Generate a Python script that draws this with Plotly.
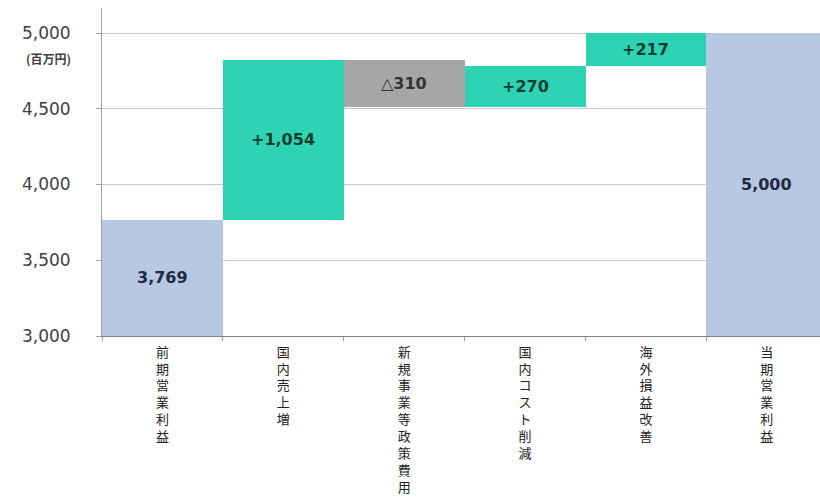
import plotly.graph_objects as go

categories = ["前期営業利益", "国内売上増", "新規事業等政策費用", "国内コスト削減", "海外損益改善", "当期営業利益"]
values = [3769, 1054, -310, 270, 217, 5000]
measures = ["absolute", "relative", "relative", "relative", "relative", "total"]
labels = ["3,769", "+1,054", "△310", "+270", "+217", "5,000"]
text_colors = ["#1f2a40", "#0f3f30", "#333333", "#0f3f30", "#0f3f30", "#1f2a40"]
y_ticks = [3000, 3500, 4000, 4500, 5000]
y_tick_text = ["3,000", "3,500", "4,000", "4,500", "5,000"]
unit_label = "(百万円)"

Y_MIN, Y_MAX = 3000, 5165

vert_labels = ["<br>".join(list(c)) for c in categories]

fig = go.Figure(go.Waterfall(
    x=vert_labels,
    y=values,
    measure=measures,
    textposition="none",
    increasing=dict(marker=dict(color="#2ed3b3")),
    decreasing=dict(marker=dict(color="#a6a6a6")),
    totals=dict(marker=dict(color="#b7c8e2")),
    connector=dict(visible=False),
    hoverinfo="skip",
))

# label positions: middle of the visible part of each bar
running = 0
for i, (v, m) in enumerate(zip(values, measures)):
    if m == "absolute":
        base, top = 0, v
        running = v
    elif m == "total":
        base, top = 0, running
    else:
        base, top = running, running + v
        running = running + v
    lo, hi = sorted([base, top])
    lo = max(lo, Y_MIN)
    fig.add_annotation(
        x=vert_labels[i], y=(lo + hi) / 2, text=f"<b>{labels[i]}</b>",
        showarrow=False, xanchor="center", yanchor="middle",
        font=dict(family="DejaVu Sans", size=16, color=text_colors[i]),
    )

fig.update_layout(
    width=820, height=503,
    margin=dict(l=102, r=0, t=8, b=167),
    plot_bgcolor="white", paper_bgcolor="white",
    waterfallgap=0,
    showlegend=False,
    font=dict(family="DejaVu Sans", color="#404040"),
)

fig.update_yaxes(
    range=[Y_MIN, Y_MAX],
    tickvals=y_ticks, ticktext=y_tick_text,
    tickfont=dict(size=17, color="#404040", family="DejaVu Sans"),
    showgrid=True, gridcolor="#c8c8c8", gridwidth=1,
    showline=True, linecolor="#a0a0a0", linewidth=1,
    ticks="outside", ticklen=5, tickcolor="#a0a0a0",
    ticklabelstandoff=22,
    zeroline=False,
)

fig.update_xaxes(
    range=[-0.5, 5.44],
    tickfont=dict(size=13, color="#222222", family="DejaVu Sans, Noto Sans CJK JP"),
    tickangle=0,
    showline=True, linecolor="#808080", linewidth=1,
    ticks="outside", ticklen=4, tickcolor="#a0a0a0",
    tickson="boundaries",
    ticklabelstandoff=4,
    showgrid=False,
)

fig.add_annotation(
    text=f"<b>{unit_label}</b>", xref="paper", yref="paper",
    x=(73 - 102) / 718, y=(336 - 58) / 328, xanchor="right", yanchor="middle",
    showarrow=False, font=dict(size=12, color="#404040", family="Noto Sans CJK JP"),
)

fig.write_html("out.html")
